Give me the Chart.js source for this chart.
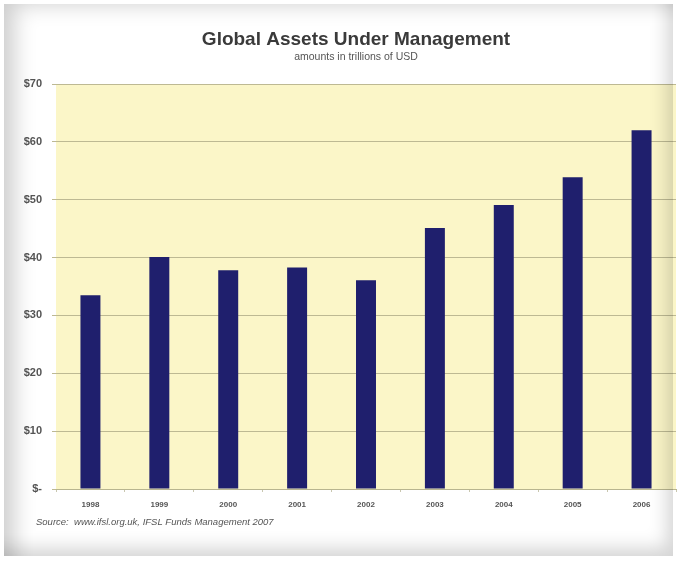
<!DOCTYPE html>
<html>
<head>
<meta charset="utf-8">
<script src="https://cdn.jsdelivr.net/npm/chart.js@4.4.1/dist/chart.umd.min.js"></script>
<style>
  html, body { margin: 0; padding: 0; background: #ffffff; }
  #wrap { position: relative; width: 677px; height: 562px; overflow: hidden; background: #ffffff; }
  #c { position: absolute; left: 0; top: 0; }
  /* bevelled picture frame laid over the chart */
  #frame {
    position: absolute; left: 4px; top: 4px; width: 669px; height: 552px;
    pointer-events: none;
    box-shadow:
      inset 22px 12px 22px -12px rgba(0,0,0,0.20),
      inset -16px -18px 18px -10px rgba(0,0,0,0.17);
  }
</style>
</head>
<body>
<div id="wrap">
  <canvas id="c" width="677" height="562"></canvas>
  <div id="frame"></div>
</div>
<script>
// Global assets under management, trillions of USD
const years = ['1998', '1999', '2000', '2001', '2002', '2003', '2004', '2005', '2006'];
const assets = [33.5, 40.1, 37.8, 38.3, 36.1, 45.1, 49.1, 53.9, 62.0];
const yTicks = [0, 10, 20, 30, 40, 50, 60, 70];

const titleText = 'Global Assets Under Management';
const subtitleText = 'amounts in trillions of USD';
const sourceText = 'Source:  www.ifsl.org.uk, IFSL Funds Management 2007';

const FONT = 'Liberation Sans, Arial, Helvetica, sans-serif';

// pale yellow plot area
const plotBackground = {
  id: 'plotBackground',
  beforeDraw(chart) {
    const { ctx, chartArea: a } = chart;
    ctx.save();
    ctx.fillStyle = '#fbf6c8';
    ctx.fillRect(a.left, a.top, a.right - a.left, a.bottom - a.top);
    ctx.restore();
  }
};

// heading, sub-heading and source note
const captions = {
  id: 'captions',
  afterDraw(chart) {
    const { ctx } = chart;
    ctx.save();
    ctx.textBaseline = 'middle';
    ctx.textAlign = 'center';
    ctx.fillStyle = '#3a3a3a';
    ctx.font = 'bold 19px ' + FONT;
    ctx.fillText(titleText, 356, 40);
    ctx.fillStyle = '#555555';
    ctx.font = '10.5px ' + FONT;
    ctx.fillText(subtitleText, 356, 57);
    ctx.textAlign = 'left';
    ctx.font = 'italic 9.5px ' + FONT;
    ctx.fillText(sourceText, 36, 522);
    ctx.restore();
  }
};

new Chart(document.getElementById('c'), {
  type: 'bar',
  data: {
    labels: years,
    datasets: [{
      data: assets,
      backgroundColor: '#1f1f6d',
      borderWidth: 0,
      barPercentage: 0.58,
      categoryPercentage: 0.5
    }]
  },
  options: {
    responsive: false,
    animation: false,
    layout: { padding: { top: 84, left: 6, right: 1, bottom: 33 } },
    plugins: {
      legend: { display: false },
      tooltip: { enabled: false },
      title: { display: false }
    },
    scales: {
      x: {
        grid: {
          display: true,
          drawOnChartArea: false,
          offset: true,
          tickLength: 3,
          color: '#c9c7b0'
        },
        border: { display: true, color: '#b8b58f', width: 1 },
        ticks: {
          color: '#555555',
          padding: 8,
          font: { family: FONT, size: 8, weight: 'bold' }
        },
        afterFit(scale) { scale.height = 40; }
      },
      y: {
        min: 0,
        max: 70,
        afterBuildTicks(scale) { scale.ticks = yTicks.map(v => ({ value: v })); },
        grid: {
          color: '#bdb993',
          lineWidth: 1,
          tickLength: 4
        },
        border: { display: false },
        ticks: {
          color: '#555555',
          padding: 10,
          font: { family: FONT, size: 11, weight: 'bold' },
          callback: v => v === 0 ? '$-' : '$' + v
        },
        afterFit(scale) { scale.width = 50; }
      }
    }
  },
  plugins: [plotBackground, captions]
});
</script>
</body>
</html>
